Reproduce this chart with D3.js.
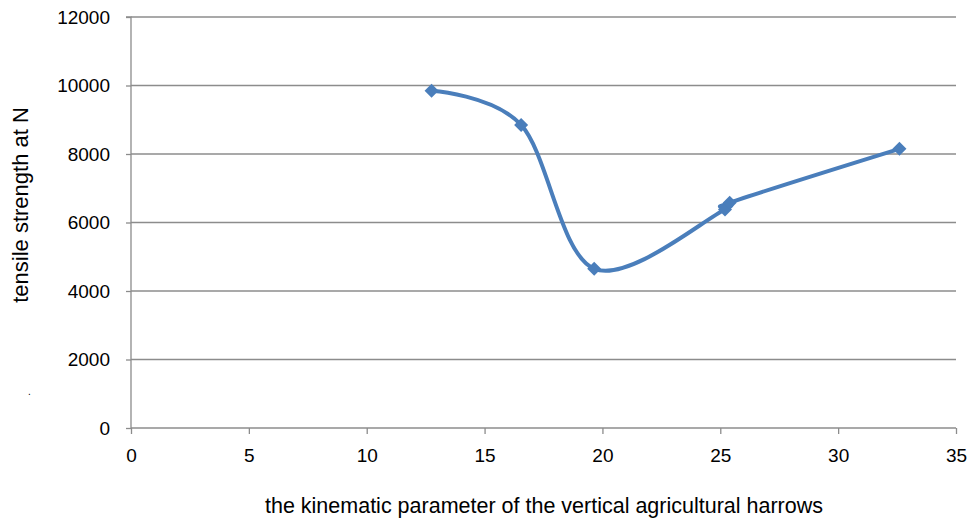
<!DOCTYPE html>
<html><head><meta charset="utf-8">
<script src="https://cdn.jsdelivr.net/npm/d3@7"></script>
<style>body{margin:0;background:#fff}svg{display:block}text{font-family:"Liberation Sans",Arial,sans-serif;fill:#000}</style>
</head><body><svg id="c" width="968" height="519"></svg>
<script>
const xValues = [12.75, 16.55, 19.65, 25.2, 25.4, 32.6];
const yValues = [9850, 8850, 4650, 6380, 6580, 8150];
const xTicks = [0, 5, 10, 15, 20, 25, 30, 35];
const yTicks = [0, 2000, 4000, 6000, 8000, 10000, 12000];
const xTitle = "the kinematic parameter of the vertical agricultural harrows";
const yTitle = "tensile strength at N";

const svg = d3.select("#c");
const x = d3.scaleLinear().domain([0, 35]).range([131, 956]);
const y = d3.scaleLinear().domain([0, 12000]).range([428, 17]);

// gridlines
svg.append("g").selectAll("line").data(yTicks.filter(d => d > 0)).join("line")
  .attr("x1", 131).attr("x2", 956).attr("y1", d => y(d)).attr("y2", d => y(d))
  .attr("stroke", "#8c8c8c").attr("stroke-width", 1.3);

const yAxis = svg.append("g").attr("transform", "translate(131,0)")
  .call(d3.axisLeft(y).tickValues(yTicks).tickSize(5).tickPadding(16).tickFormat(d3.format("d")));
const xAxis = svg.append("g").attr("transform", "translate(0,428)")
  .call(d3.axisBottom(x).tickValues(xTicks).tickSize(6).tickPadding(15));
[yAxis, xAxis].forEach(a => {
  a.select(".domain").attr("stroke", "#8c8c8c").attr("stroke-width", 1.3);
  a.selectAll(".tick line").attr("stroke", "#8c8c8c").attr("stroke-width", 1.3);
  a.selectAll("text").style("font-size", "19px").attr("fill", "#000");
});
yAxis.select(".domain").attr("d", `M-5,${y(12000)}H0V${y(0)}`);
xAxis.select(".domain").attr("d", `M131,0H956`);

const data = xValues.map((v, i) => [v, yValues[i]]);
svg.append("path").datum(data)
  .attr("fill", "none").attr("stroke", "#4a7ebb").attr("stroke-width", 4)
  .attr("d", d3.line().x(d => x(d[0])).y(d => y(d[1])).curve(d3.curveCardinal.tension(0)));

svg.append("g").selectAll("path").data(data).join("path")
  .attr("transform", d => `translate(${x(d[0])},${y(d[1])})`)
  .attr("d", "M0,-7L7,0L0,7L-7,0Z").attr("fill", "#4a7ebb");

svg.append("text").attr("x", 544).attr("y", 513).attr("text-anchor", "middle")
  .style("font-size", "21.5px").text(xTitle);
svg.append("text").attr("transform", "translate(28,205) rotate(-90)").attr("text-anchor", "middle")
  .style("font-size", "22px").text(yTitle);
svg.append("text").attr("x", 28).attr("y", 395).style("font-size", "10px").text(".");
</script></body></html>
